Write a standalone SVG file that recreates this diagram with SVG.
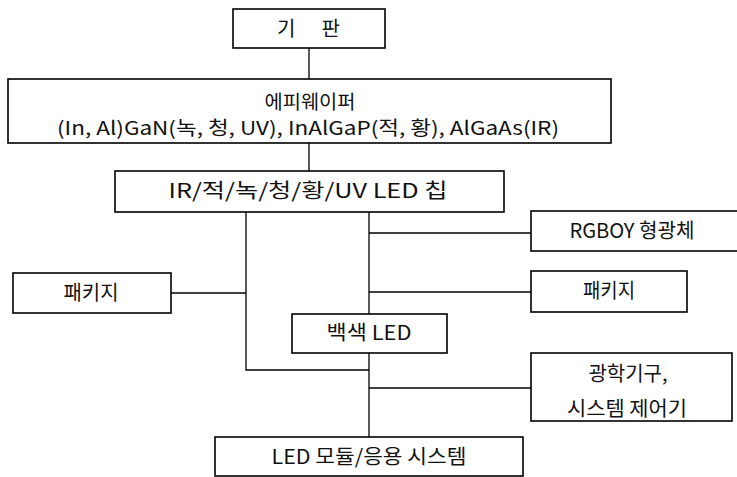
<svg xmlns="http://www.w3.org/2000/svg" width="737" height="477" viewBox="0 0 737 477">
<style>
.box{fill:#fff;stroke:#000;stroke-width:1.6}
.ln{fill:none;stroke:#000;stroke-width:1.3}
text{font-family:"Noto Sans CJK KR","Noto Sans",sans-serif;font-size:20px;fill:#111;text-anchor:middle}
.epi{font-size:19px}
</style>
<rect width="737" height="477" fill="#fff"/>
<g id="connectors">
<path class="ln" d="M309 48V79"/>
<path class="ln" d="M309 143V171"/>
<path class="ln" d="M246 212V370H369"/>
<path class="ln" d="M369 212V314"/>
<path class="ln" d="M369 353V437"/>
<path class="ln" d="M369 233H531"/>
<path class="ln" d="M369 292H531"/>
<path class="ln" d="M171 293H246"/>
<path class="ln" d="M369 388H531"/>
</g>
<g id="substrate">
<rect class="box" x="233" y="9" width="152" height="39"/>
<text x="308.5" y="35.5" textLength="63" lengthAdjust="spacing">기 판</text>
</g>
<g id="epiwafer">
<rect class="box" x="8" y="79" width="603" height="64"/>
<text class="epi" x="310" y="108.5" textLength="91" lengthAdjust="spacingAndGlyphs">에피웨이퍼</text>
<text class="epi" x="308" y="134.5" textLength="502" lengthAdjust="spacingAndGlyphs">(In, Al)GaN(녹, 청, UV), InAlGaP(적, 황), AlGaAs(IR)</text>
</g>
<g id="chip">
<rect class="box" x="115" y="171" width="389" height="41"/>
<text x="308" y="198" textLength="279" lengthAdjust="spacingAndGlyphs">IR/적/녹/청/황/UV LED 칩</text>
</g>
<g id="phosphor">
<rect class="box" x="531" y="211" width="210" height="40"/>
<text x="632" y="238" textLength="125" lengthAdjust="spacingAndGlyphs">RGBOY 형광체</text>
</g>
<g id="package-right">
<rect class="box" x="531" y="271" width="156" height="41"/>
<text x="609" y="298" textLength="52" lengthAdjust="spacingAndGlyphs">패키지</text>
</g>
<g id="package-left">
<rect class="box" x="13" y="273" width="158" height="40"/>
<text x="91" y="300" textLength="55" lengthAdjust="spacingAndGlyphs">패키지</text>
</g>
<g id="white-led">
<rect class="box" x="292" y="314" width="155" height="39"/>
<text x="369" y="340" textLength="85" lengthAdjust="spacingAndGlyphs">백색 LED</text>
</g>
<g id="optics">
<rect class="box" x="531" y="353" width="201" height="68"/>
<text x="628" y="381" textLength="79" lengthAdjust="spacingAndGlyphs">광학기구,</text>
<text x="627" y="416" textLength="120" lengthAdjust="spacingAndGlyphs">시스템 제어기</text>
</g>
<g id="module">
<rect class="box" x="215" y="437" width="308" height="39"/>
<text x="369" y="464" textLength="195" lengthAdjust="spacingAndGlyphs">LED 모듈/응용 시스템</text>
</g>
</svg>
